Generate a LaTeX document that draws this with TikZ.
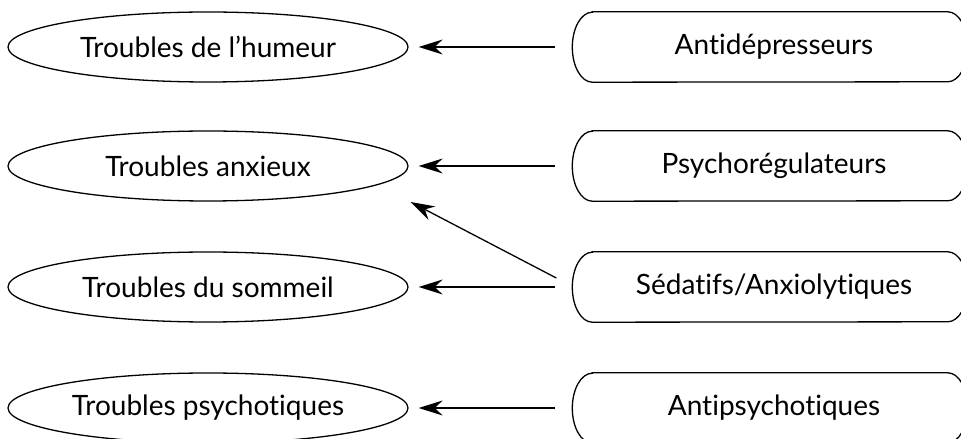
\documentclass[tikz,border=0pt]{standalone}
\usepackage{fontspec}
\setmainfont{Lato}[Ligatures=NoCommon]
\usetikzlibrary{arrows.meta,shapes.geometric}
\begin{document}
\begin{tikzpicture}[x=1pt,y=1pt,
  trouble/.style={ellipse,draw,line width=1.3pt,minimum width=400pt,minimum height=70pt,inner sep=0pt,font=\fontsize{28}{33}\selectfont},
  drug/.style={rectangle,draw=none,minimum width=395pt,minimum height=70pt,inner sep=0pt,font=\fontsize{28}{33}\selectfont},
  arr/.style={line width=1.3pt,-{Stealth[length=24pt,width=15pt,inset=8pt]}}]
\useasboundingbox (0,0) rectangle (961,439);
\clip (0,0) rectangle (961,439);
\node[trouble] (e1) at (208,392) {Troubles de l’humeur};
\node[trouble] (e2) at (208,273) {Troubles anxieux};
\node[trouble] (e3) at (208,152) {Troubles du sommeil};
\node[trouble] (e4) at (208,31) {Troubles psychotiques};
\node[drug] (r1) at (770,392) {\hspace*{8pt}Antidépresseurs};
\node[drug] (r2) at (770,273) {\hspace*{8pt}Psychorégulateurs};
\node[drug] (r3) at (770,152) {\hspace*{8pt}Sédatifs/Anxiolytiques};
\node[drug] (r4) at (770,31) {\hspace*{8pt}Antipsychotiques};
\foreach \n in {r1,r2,r3,r4}{
  \draw[line width=1.3pt] ([xshift=20pt]\n.north west) -- ([xshift=-20pt]\n.north east)
    arc[start angle=90,end angle=-90,x radius=20pt,y radius=35pt]
    -- ([xshift=20pt]\n.south west)
    arc[start angle=270,end angle=90,x radius=20pt,y radius=35pt] -- cycle;
}
\draw[arr] ([xshift=-17pt]r1.west) -- ([xshift=10pt]e1.east);
\draw[arr] ([xshift=-17pt]r2.west) -- ([xshift=10pt]e2.east);
\draw[arr] ([xshift=-17pt]r3.west) -- ([xshift=10pt]e3.east);
\draw[arr] ([xshift=-17pt]r4.west) -- ([xshift=10pt]e4.east);
\coordinate (d0) at ([shift={(-16pt,9pt)}]r3.west);
\coordinate (d1) at ([shift={(2pt,-36pt)}]e2.east);
\draw[arr] (d0) -- (d1);
\end{tikzpicture}
\end{document}
